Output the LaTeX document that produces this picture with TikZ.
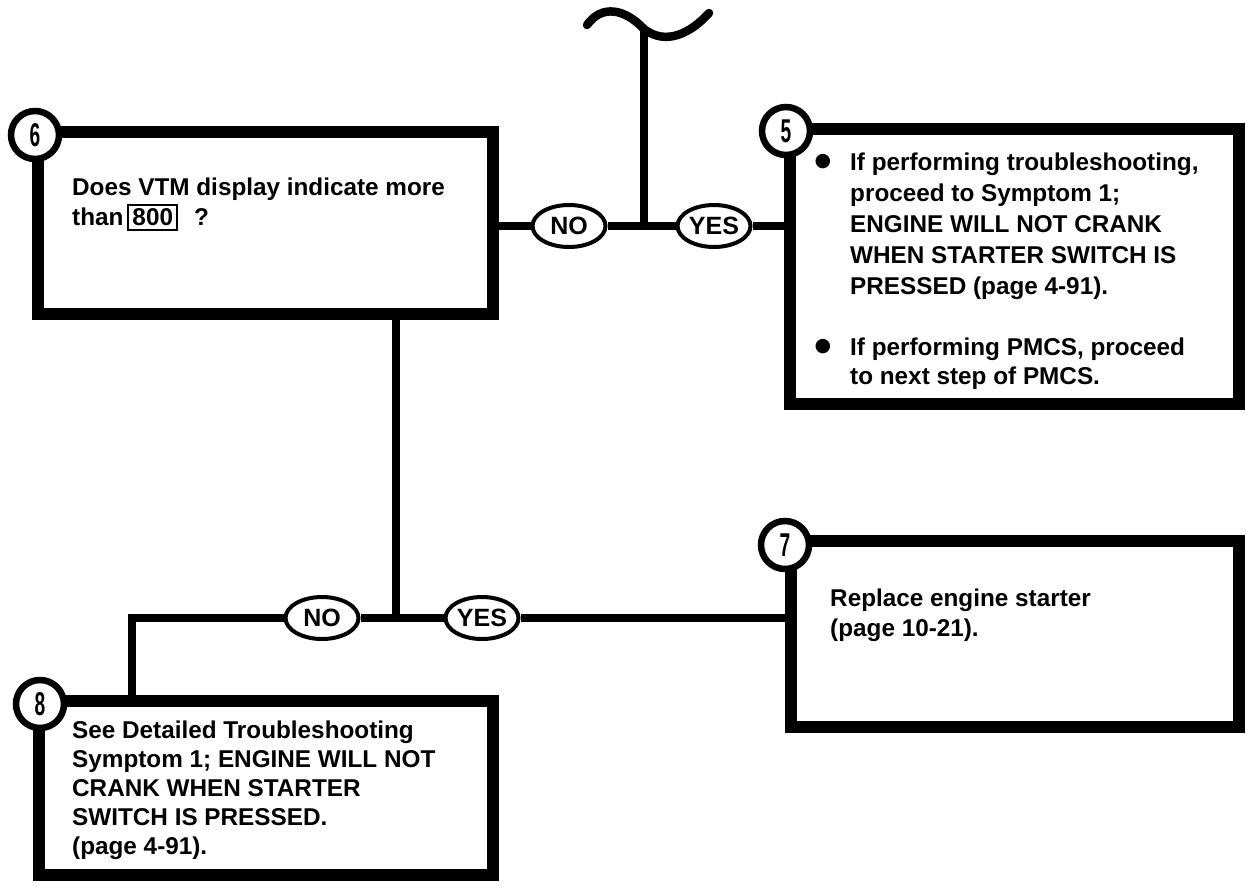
\documentclass[tikz,border=0pt]{standalone}
\usepackage{fontspec}
\setmainfont{Liberation Sans}
\newfontfamily\dejavu{DejaVu Sans}
\usetikzlibrary{shapes.geometric}
\begin{document}
\begin{tikzpicture}[x=1pt,y=-1pt,
  box/.style={draw, line width=12.5pt, rectangle, inner sep=0pt},
  num/.style={draw, circle, line width=6.5pt, fill=white, minimum size=48pt, inner sep=0pt,
    font=\fontsize{33}{33}\selectfont\bfseries},
  oval/.style={draw, ellipse, line width=4pt, fill=white, minimum width=73pt, minimum height=42pt,
    inner sep=0pt, font=\fontsize{25}{28}\selectfont\bfseries},
  conn/.style={line width=7.5pt},
  txt/.style={anchor=north west, inner sep=0pt, align=left, font=\fontsize{24.3}{#1}\selectfont\bfseries},
  bul/.style={inner sep=0pt, font=\dejavu\fontsize{19}{19}\selectfont},
]
\useasboundingbox (0,0) rectangle (1246,886);

% boxes
\node[box, minimum width=455pt, minimum height=182pt] (b6) at (265.5,223) {};
\node[box, minimum width=449pt, minimum height=275pt] (b5) at (1014.5,266.5) {};
\node[box, minimum width=448pt, minimum height=186pt] (b7) at (1015,634) {};
\node[box, minimum width=454pt, minimum height=174pt] (b8) at (266,788) {};

% texts
\node[txt=30] (t6) at (72,178) {Does VTM display indicate more\\than\hspace{4pt}{\setlength{\fboxsep}{3pt}\setlength{\fboxrule}{2pt}\fbox{800}}\hspace{16pt}?};
\node[bul] (u5a) at (823,162) {●};
\node[txt=31] (t5a) at (850,153) {If performing troubleshooting,\\proceed to Symptom 1;\\ENGINE WILL NOT CRANK\\WHEN STARTER SWITCH IS\\PRESSED (page 4-91).};
\node[bul] (u5b) at (823,347) {●};
\node[txt=29] (t5b) at (850,338) {If performing PMCS, proceed\\to next step of PMCS.};
\node[txt=30] (t7) at (830,589) {Replace engine starter\\(page 10-21).};
\node[txt=29] (t8) at (72,721) {See Detailed Troubleshooting\\Symptom 1; ENGINE WILL NOT\\CRANK WHEN STARTER\\SWITCH IS PRESSED.\\(page 4-91).};

% decision ovals
\node[oval] (n1) at (569,226) {NO};
\node[oval] (y1) at (714,226) {YES};
\node[oval] (n2) at (322,618) {NO};
\node[oval] (y2) at (482,618) {YES};

% coordinates
\coordinate (J1) at (644,226);
\coordinate (T) at (644,29);
\coordinate (TL) at (587,25);
\coordinate (TR) at (709,13);
\coordinate (J2) at (396,618);
\coordinate (K) at (132,618);

% connectors
\draw[line width=8.5pt, line cap=round] (TL) .. controls (602,4) and (625,9) .. (T) .. controls (666,46) and (691,33) .. (TR);
\draw[conn] (T) -- (J1);
\draw[conn] (n1.west -| b6.east) -- (n1.west);
\draw[conn] (n1.east) -- (J1) -- (y1.west);
\draw[conn] (y1.east) -- (y1.east -| b5.west);
\draw[conn] (b6.south -| J2) -- (J2);
\draw[conn] (J2) -- (n2.east);
\draw[conn] (n2.west) -- (K) -- (K |- b8.north);
\draw[conn] (J2) -- (y2.west);
\draw[conn] (y2.east) -- (y2.east -| b7.west);

% number circles
\node[num] (c6) at (35,135) {\scalebox{0.58}[1]{6}};
\node[num] (c5) at (786,131) {\scalebox{0.58}[1]{5}};
\node[num] (c7) at (785,545) {\scalebox{0.58}[1]{7}};
\node[num] (c8) at (40,704) {\scalebox{0.58}[1]{8}};
\end{tikzpicture}
\end{document}
